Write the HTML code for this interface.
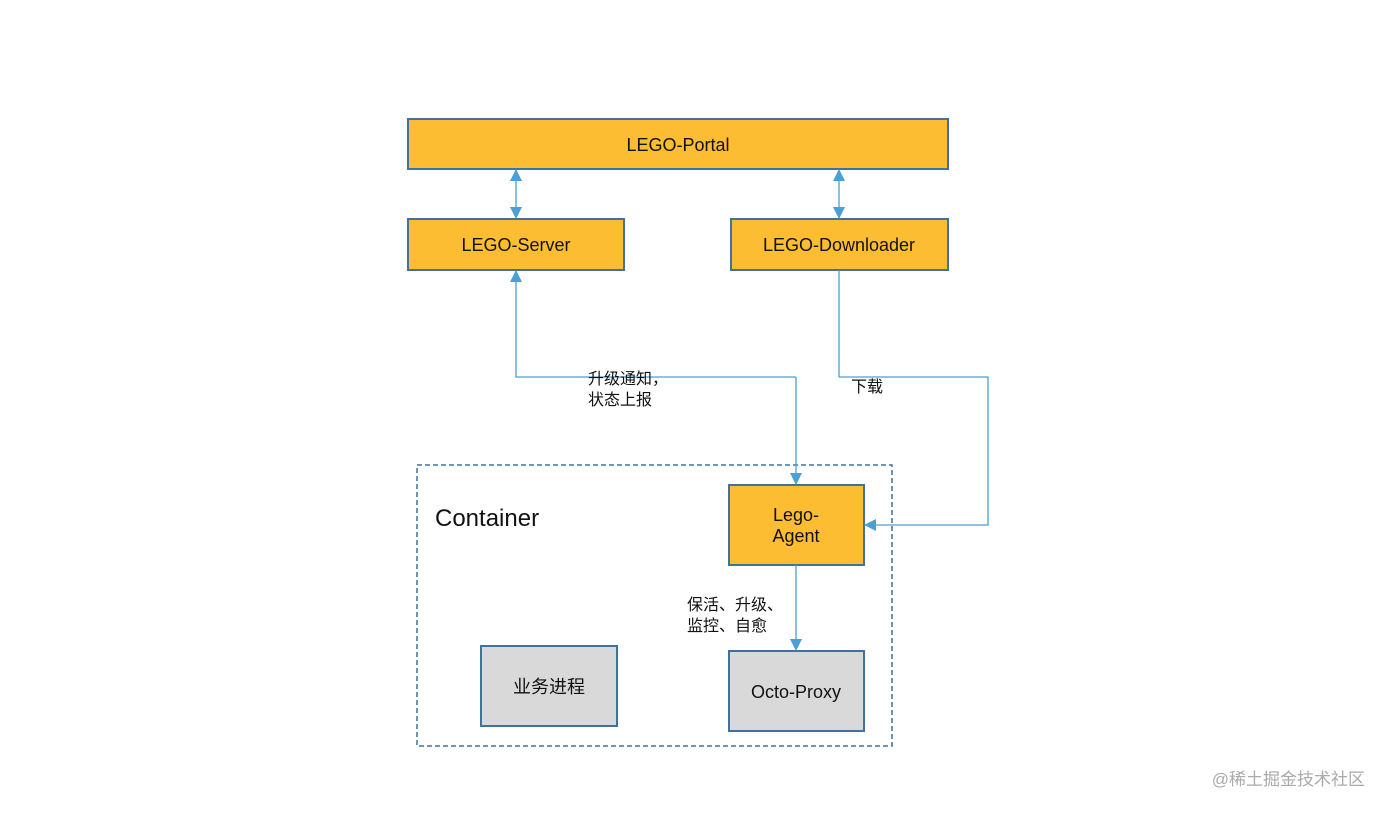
<!DOCTYPE html>
<html><head><meta charset="utf-8"><style>
body{margin:0;background:#fff;}
svg text{font-family:"Liberation Sans","Noto Sans CJK SC",sans-serif;}
</style></head><body>
<svg width="1386" height="812" xmlns="http://www.w3.org/2000/svg">
<defs>
<marker id="a" markerWidth="12" markerHeight="12" refX="11" refY="6" orient="auto-start-reverse" markerUnits="userSpaceOnUse">
<path d="M0,0 L12,6 L0,12 z" fill="#4a9fd4"/></marker>
</defs>
<rect x="0" y="0" width="1386" height="812" fill="#fff"/>
<g stroke="#41719c" stroke-width="2">
<rect x="408" y="119" width="540" height="50" fill="#fdbd32"/>
<rect x="408" y="219" width="216" height="51" fill="#fdbd32"/>
<rect x="731" y="219" width="217" height="51" fill="#fdbd32"/>
<rect x="729" y="485" width="135" height="80" fill="#fdbd32"/>
<rect x="729" y="651" width="135" height="80" fill="#d9d9d9"/>
<rect x="481" y="646" width="136" height="80" fill="#d9d9d9"/>
</g>
<rect x="417" y="465" width="475" height="281" fill="none" stroke="#41719c" stroke-width="1.5" stroke-dasharray="5,3"/>
<g stroke="#4a9fd4" stroke-width="1.3" fill="none">
<line x1="516" y1="170" x2="516" y2="218" marker-start="url(#a)" marker-end="url(#a)"/>
<line x1="839" y1="170" x2="839" y2="218" marker-start="url(#a)" marker-end="url(#a)"/>
<polyline points="796,377 516,377 516,271" marker-end="url(#a)"/>
<polyline points="796,377 796,484" marker-end="url(#a)"/>
<polyline points="839,270 839,377 988,377 988,525 865,525" marker-end="url(#a)"/>
<polyline points="796,565 796,650" marker-end="url(#a)"/>
</g>
<g font-size="18" fill="#111" text-anchor="middle">
<text x="678" y="151">LEGO-Portal</text>
<text x="516" y="251">LEGO-Server</text>
<text x="839" y="251">LEGO-Downloader</text>
<text x="796" y="521">Lego-</text>
<text x="796" y="542">Agent</text>
<text x="796" y="698">Octo-Proxy</text>
<text x="549" y="693">业务进程</text>
</g>
<text x="435" y="526" font-size="24" fill="#111">Container</text>
<g font-size="16" fill="#111">
<text x="588" y="384">升级通知，</text>
<text x="588" y="405">状态上报</text>
<text x="851" y="392">下载</text>
<text x="687" y="610">保活、升级、</text>
<text x="687" y="631">监控、自愈</text>
</g>
<text x="1365" y="785" font-size="17" fill="#aaa" text-anchor="end">@稀土掘金技术社区</text>
</svg>
</body></html>
